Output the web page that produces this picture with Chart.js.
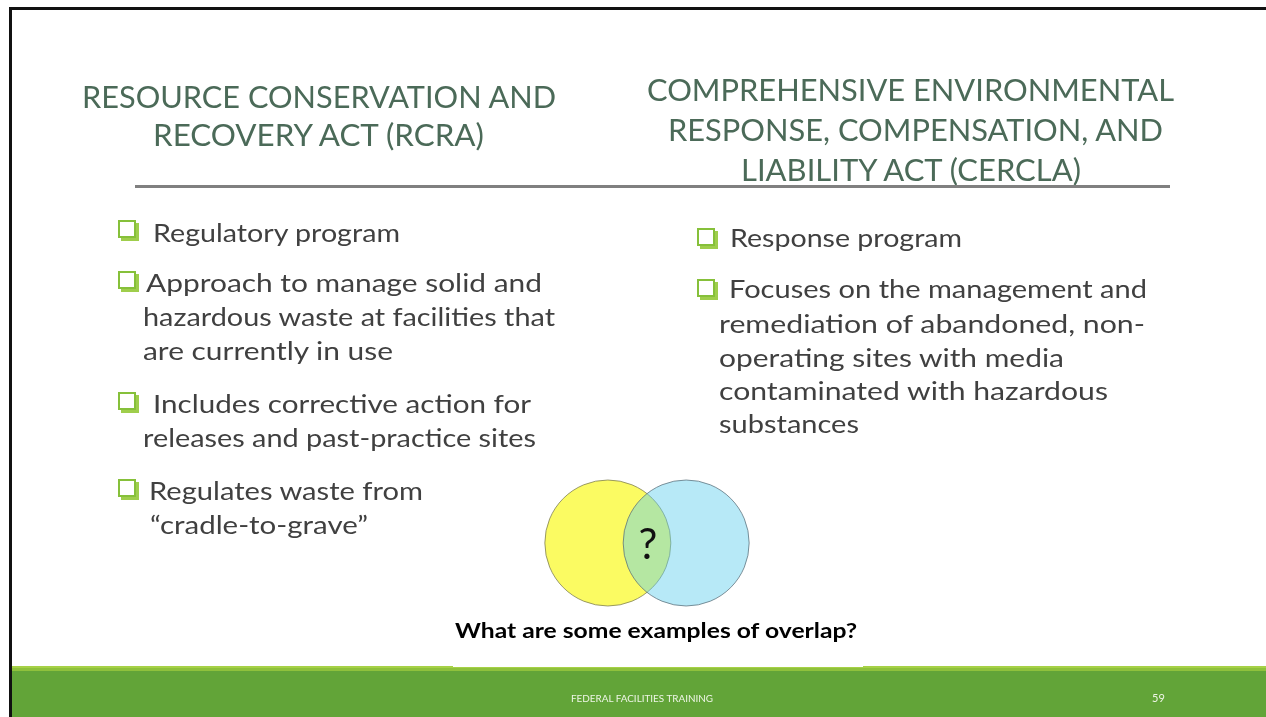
<!DOCTYPE html>
<html>
<head>
<meta charset="utf-8">
<script src="https://cdn.jsdelivr.net/npm/chart.js"></script>
<style>
  html, body { margin: 0; padding: 0; background: #fff; }
  #slide { position: relative; width: 1266px; height: 717px; overflow: hidden; background: #fff; }
  /* canvas is 64px bigger on each side: bubble charts pad the chart area by the bubble radius */
  #venn { position: absolute; left: 463px; top: 404px; width: 368px; height: 278px; }
  #text { position: absolute; left: 0; top: 0; width: 1266px; height: 717px; pointer-events: none; }
  svg text { font-family: Lato, "Open Sans", sans-serif; }
  .title { fill: #4b6a58; font-size: 30px; }
  .item { fill: #404040; font-size: 25px; }
</style>
</head>
<body>
<div id="slide">
  <div id="venn"><canvas id="vennChart" width="368" height="278"></canvas></div>
  <svg id="text" width="1266" height="717" xmlns="http://www.w3.org/2000/svg">
    <!-- frame -->
    <rect x="9" y="7" width="1257" height="3" fill="#111"/>
    <rect x="9" y="7" width="3" height="710" fill="#111"/>

    <!-- titles -->
    <text class="title" x="82" y="108" textLength="474" lengthAdjust="spacingAndGlyphs">RESOURCE CONSERVATION AND</text>
    <text class="title" x="153" y="146" textLength="331" lengthAdjust="spacingAndGlyphs">RECOVERY ACT (RCRA)</text>
    <text class="title" x="647" y="101" textLength="527" lengthAdjust="spacingAndGlyphs">COMPREHENSIVE  ENVIRONMENTAL</text>
    <text class="title" x="668" y="141" textLength="495" lengthAdjust="spacingAndGlyphs">RESPONSE, COMPENSATION, AND</text>
    <text class="title" x="741" y="181" textLength="340" lengthAdjust="spacingAndGlyphs">LIABILITY ACT (CERCLA)</text>
    <rect x="135" y="185" width="1035" height="3" fill="#808080"/>

    <!-- bullet boxes -->
    <g id="boxes"></g>

    <!-- left column -->
    <text class="item" x="153" y="242" textLength="247" lengthAdjust="spacingAndGlyphs">Regulatory program</text>
    <text class="item" x="146" y="292" textLength="396" lengthAdjust="spacingAndGlyphs">Approach to manage solid and</text>
    <text class="item" x="143" y="326" textLength="412" lengthAdjust="spacingAndGlyphs">hazardous waste at facilities that</text>
    <text class="item" x="143" y="360" textLength="250" lengthAdjust="spacingAndGlyphs">are currently in use</text>
    <text class="item" x="153" y="413" textLength="378" lengthAdjust="spacingAndGlyphs">Includes corrective action for</text>
    <text class="item" x="143" y="447" textLength="393" lengthAdjust="spacingAndGlyphs">releases and past-practice sites</text>
    <text class="item" x="149" y="500" textLength="274" lengthAdjust="spacingAndGlyphs">Regulates waste from</text>
    <text class="item" x="150" y="534" textLength="218" lengthAdjust="spacingAndGlyphs">“cradle-to-grave”</text>

    <!-- right column -->
    <text class="item" x="730" y="247" textLength="232" lengthAdjust="spacingAndGlyphs">Response program</text>
    <text class="item" x="729" y="298" textLength="418" lengthAdjust="spacingAndGlyphs">Focuses on the management and</text>
    <text class="item" x="719" y="333" textLength="426" lengthAdjust="spacingAndGlyphs">remediation of abandoned, non-</text>
    <text class="item" x="719" y="367" textLength="345" lengthAdjust="spacingAndGlyphs">operating sites with media</text>
    <text class="item" x="719" y="400" textLength="389" lengthAdjust="spacingAndGlyphs">contaminated with hazardous</text>
    <text class="item" x="719" y="433" textLength="140" lengthAdjust="spacingAndGlyphs">substances</text>

    <!-- venn label + question -->
    <text x="648" y="559" font-size="42" fill="#111" text-anchor="middle">?</text>
    <text x="455" y="638" font-size="20" font-weight="bold" fill="#000" textLength="402" lengthAdjust="spacingAndGlyphs">What are some examples of overlap?</text>

    <!-- footer -->
    <rect x="12" y="666" width="1254" height="2" fill="#a6d146"/>
    <rect x="12" y="668" width="1254" height="3" fill="#8fc13c"/>
    <rect x="12" y="671" width="1254" height="46" fill="#62a438"/>
    <rect x="453" y="666" width="410" height="1" fill="#ffffff"/>
    <text x="571" y="702" font-size="10" fill="#eef5e6" textLength="142" lengthAdjust="spacingAndGlyphs">FEDERAL FACILITIES TRAINING</text>
    <text x="1152" y="702" font-size="11" fill="#eef5e6">59</text>
  </svg>
</div>
<script>
// two sets of the diagram, centres in units of one circle radius
const vennSets = ['RCRA', 'CERCLA']
const vennX = [-0.62, 0.62]
const vennY = [0, 0]

// bullet box tops (left column x=118, right column x=697)
const boxLeftY = [220, 271, 392, 479]
const boxRightY = [228, 279]

const boxes = document.getElementById('boxes')
const addBox = (x, y) => {
  const ns = 'http://www.w3.org/2000/svg'
  const sh = document.createElementNS(ns, 'rect')
  sh.setAttribute('x', x + 3); sh.setAttribute('y', y + 3)
  sh.setAttribute('width', 18); sh.setAttribute('height', 18)
  sh.setAttribute('fill', '#9fce4c')
  boxes.appendChild(sh)
  const b = document.createElementNS(ns, 'rect')
  b.setAttribute('x', x + 1); b.setAttribute('y', y + 1)
  b.setAttribute('width', 16); b.setAttribute('height', 16)
  b.setAttribute('fill', '#fff'); b.setAttribute('stroke', '#86c03a'); b.setAttribute('stroke-width', 2)
  boxes.appendChild(b)
}
boxLeftY.forEach(y => addBox(118, y))
boxRightY.forEach(y => addBox(697, y))

const ctx = document.getElementById('vennChart').getContext('2d')
new Chart(ctx, {
  type: 'bubble',
  data: {
    labels: vennSets,
    datasets: [{
      label: 'sets',
      data: vennSets.map((s, i) => ({ x: vennX[i], y: vennY[i] })),
      backgroundColor: ['#fbfb62', 'rgba(98, 207, 238, 0.46)'],
      borderColor: ['rgba(120, 120, 80, 0.75)', 'rgba(90, 110, 120, 0.75)'],
      borderWidth: 1,
      radius: 63,
      hoverRadius: 0,
      clip: false
    }]
  },
  options: {
    responsive: false,
    animation: false,
    events: [],
    layout: { padding: 64 },
    plugins: { legend: { display: false }, tooltip: { enabled: false } },
    scales: {
      x: { type: 'linear', display: false, min: -1.9, max: 1.9 },
      y: { type: 'linear', display: false, min: -1.1875, max: 1.1875 }
    }
  }
})
</script>
</body>
</html>
